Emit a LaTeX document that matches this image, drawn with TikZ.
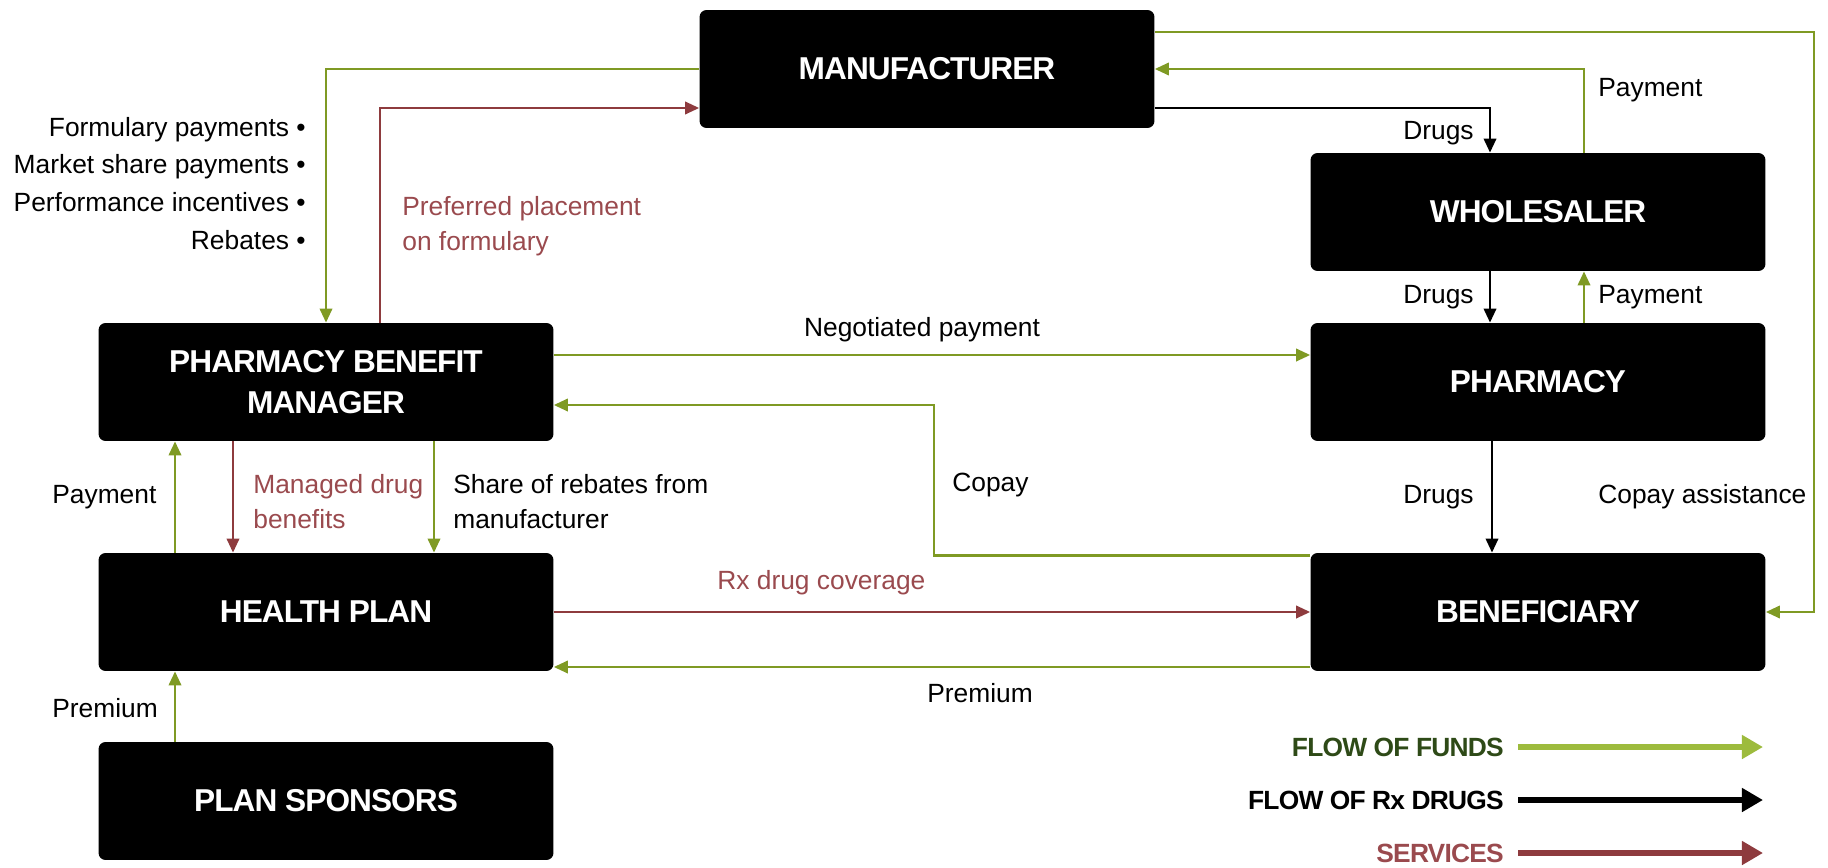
\documentclass[tikz,border=0pt]{standalone}
\usepackage{fontspec}
\setmainfont{Liberation Sans}
\newfontfamily\boxfont[LetterSpace=-3]{Liberation Sans}
\usepackage{tikz}
\usetikzlibrary{shapes,arrows.meta,positioning,calc}
\usepackage{xcolor}
\definecolor{fundsgreen}{HTML}{7F9A24}
\definecolor{fundslight}{HTML}{9DBB3D}
\definecolor{fundstext}{HTML}{2E4A17}
\definecolor{servicered}{HTML}{8E3B3E}
\definecolor{servicetext}{HTML}{9A4A4E}

\begin{document}
\begin{tikzpicture}[x=0.02cm,y=-0.02cm,
        party/.style={fill=black, text=white, rounded corners=4pt, minimum width=9.1cm, minimum height=2.36cm, align=center, font=\boxfont\bfseries\fontsize{18}{23}\selectfont},
        lbl/.style={inner sep=0pt, align=left, font=\fontsize{15}{20}\selectfont},
        keylbl/.style={inner sep=0pt, font=\boxfont\bfseries\fontsize{15}{20}\selectfont},
        flow/.style={line width=1.5pt, -{Triangle[length=8pt,width=7pt]}},
        funds/.style={flow, draw=fundsgreen},
        drugs/.style={flow, draw=black},
        services/.style={flow, draw=servicered},
        keyarrow/.style={line width=3pt, -{Triangle[length=12pt,width=13pt]}}]
                    \useasboundingbox (0,0) rectangle (1828,868);
                    \node[party] (manufacturer) at (927,69) {MANUFACTURER};
                    \node[party] (wholesaler) at (1538,212) {WHOLESALER};
                    \node[party] (pharmacy) at (1538,382) {PHARMACY};
                    \node[party] (beneficiary) at (1538,612) {BENEFICIARY};
                    \node[party] (pbm) at (326,382) {PHARMACY BENEFIT\\MANAGER};
                    \node[party] (healthplan) at (326,612) {HEALTH PLAN};
                    \node[party] (sponsors) at (326,801) {PLAN SPONSORS};
                    \draw[funds] (manufacturer.west) -| (pbm.north);
                    \draw[services] ($(pbm.north)+(54,0)$) |- ($(manufacturer.west)+(0,39)$);
                    \draw[funds] ($(manufacturer.east)+(0,-37)$) -| ($(beneficiary.east)+(48,0)$) -- (beneficiary.east);
                    \draw[funds] ($(wholesaler.north)+(46,0)$) |- (manufacturer.east);
                    \draw[drugs] ($(manufacturer.east)+(0,39)$) -| ($(wholesaler.north)+(-48,0)$);
                    \draw[drugs] ($(wholesaler.south)+(-48,0)$) -- ($(pharmacy.north)+(-48,0)$);
                    \draw[funds] ($(pharmacy.north)+(46,0)$) -- ($(wholesaler.south)+(46,0)$);
                    \draw[funds] ($(pbm.east)+(0,-27)$) -- ($(pharmacy.west)+(0,-27)$);
                    \draw[funds] ($(beneficiary.north west)+(0,3)$) -| ($(pbm.east)+(380,23)$) -- ($(pbm.east)+(0,23)$);
                    \draw[drugs] ($(pharmacy.south)+(-46,0)$) -- ($(beneficiary.north)+(-46,0)$);
                    \draw[services] (healthplan.east) -- (beneficiary.west);
                    \draw[funds] ($(beneficiary.west)+(0,55)$) -- ($(healthplan.east)+(0,55)$);
                    \draw[funds] ($(healthplan.north)+(-151,0)$) -- ($(pbm.south)+(-151,0)$);
                    \draw[services] ($(pbm.south)+(-93,0)$) -- ($(healthplan.north)+(-93,0)$);
                    \draw[funds] ($(pbm.south)+(108,0)$) -- ($(healthplan.north)+(108,0)$);
                    \draw[funds] ($(sponsors.north)+(-151,0)$) -- ($(healthplan.south)+(-151,0)$);
                    \foreach \txt/\yy in {Formulary payments/130, Market share payments/167, Performance incentives/202, Rebates/240} {
                        \node[lbl, anchor=east] (bullet\yy) at (306,\yy) {\txt~•};
                    }
                    \node[lbl, anchor=west, text=servicetext] (preferred) at (402,226) {Preferred placement\\on formulary};
                    \node[lbl, anchor=west] (paywhole) at (1598,90) {Payment};
                    \node[lbl, anchor=east] (drugswhole) at (1474,133) {Drugs};
                    \node[lbl, anchor=east] (drugsphar) at (1474,297) {Drugs};
                    \node[lbl, anchor=west] (payphar) at (1598,297) {Payment};
                    \node[lbl] (negotiated) at (922,330) {Negotiated payment};
                    \node[lbl, anchor=west] (copay) at (952,485) {Copay};
                    \node[lbl, anchor=east] (drugsbene) at (1474,497) {Drugs};
                    \node[lbl, anchor=west] (assist) at (1598,497) {Copay assistance};
                    \node[lbl, anchor=west, text=servicetext] (coverage) at (717,583) {Rx drug coverage};
                    \node[lbl, anchor=west] (premiumbene) at (927,693) {Premium};
                    \node[lbl, anchor=west] (paypbm) at (52,497) {Payment};
                    \node[lbl, anchor=west, text=servicetext] (managed) at (253,502) {Managed drug\\benefits};
                    \node[lbl, anchor=west] (share) at (453,502) {Share of rebates from\\manufacturer};
                    \node[lbl, anchor=west] (premiumplan) at (52,708) {Premium};
                    \foreach \lab/\txt/\col/\yy in {FLOW OF FUNDS/fundstext/fundslight/747, FLOW OF Rx DRUGS/black/black/800, SERVICES/servicetext/servicered/853} {
                        \node[keylbl, anchor=east, text=\txt] (key\yy) at (1504,\yy) {\lab};
                        \coordinate (keyend\yy) at (1763,\yy);
                        \draw[keyarrow, draw=\col] ($(key\yy.east)+(14,0)$) -- (keyend\yy);
                    }
                \end{tikzpicture}
\end{document}
